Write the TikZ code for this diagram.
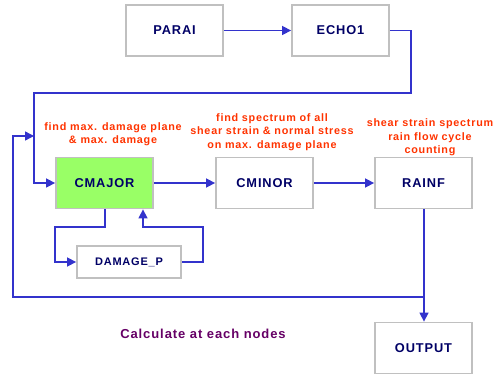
\documentclass[tikz,border=0pt]{standalone}
\usepackage{fontspec}
\setmainfont{Liberation Sans}
\newfontfamily\widesans[LetterSpace=7]{Liberation Sans}
\usetikzlibrary{arrows.meta}
\definecolor{boxline}{HTML}{C0C0C0}
\definecolor{boxtext}{HTML}{000066}
\definecolor{flow}{HTML}{3333CC}
\definecolor{note}{HTML}{FF3300}
\definecolor{caption}{HTML}{660066}
\definecolor{hot}{HTML}{99FF66}
\tikzset{
  x=1pt, y=-1pt,
  module/.style={draw=boxline, line width=1.8pt, fill=white, minimum width=97pt, minimum height=51pt,
    font=\widesans\fontsize{12.8}{15}\selectfont\bfseries, text=boxtext, inner sep=0pt},
  smallmodule/.style={module, minimum width=104pt, minimum height=32pt, font=\widesans\fontsize{11}{12}\selectfont\bfseries},
  link/.style={draw=flow, line width=1.5pt, -{Triangle[length=9pt,width=9pt]}},
  remark/.style={text=note, font=\widesans\fontsize{10.8}{13.5}\selectfont\bfseries, align=center, inner sep=0pt}
}
\begin{document}
\begin{tikzpicture}
\useasboundingbox (0,0) rectangle (501,374);
% modules
\node[module] (parai) at (174.5,30.5) {PARAI};
\node[module] (echo) at (340.5,30.5) {ECHO1};
\node[module, fill=hot] (cmajor) at (104.5,183) {CMAJOR};
\node[module] (cminor) at (264.5,183) {CMINOR};
\node[module] (rainf) at (423.5,183) {RAINF};
\node[smallmodule] (damage) at (129,262) {DAMAGE\_P};
\node[module] (output) at (423.5,348) {OUTPUT};
% remarks
\node[remark] (r1) at (113,134) {find max. damage plane\\\& max. damage};
\node[remark] (r2) at (272,132) {find spectrum of all\\shear strain \& normal stress\\on max. damage plane};
\node[remark] (r3) at (430,137.5) {shear strain spectrum\\rain flow cycle\\counting};
\node[text=caption, font=\widesans\fontsize{13}{14}\selectfont\bfseries] (cap) at (203,334) {Calculate at each nodes};
% junction points
\coordinate (j1) at (34,136);
\coordinate (j2) at (424,297);
% main flow
\draw[link] (parai) -- (echo);
\draw[link] (echo.east) -- (411,30.5) -- (411,93) -- (34,93) -- (34,183) -- (cmajor.west);
\draw[link] (cmajor) -- (cminor);
\draw[link] (cminor) -- (rainf);
\draw[link] (rainf.south -| j2) -- (output.north -| j2);
% damage sub-loop
\draw[link] (cmajor.south -| 105,0) -- (105,227) -- (55,227) -- (55,262) -- (damage.west);
\draw[link] (damage.east) -- (203,262) -- (203,227) -- (143,227) -- (cmajor.south -| 143,0);
% return loop
\draw[link] (j2) -- (13,297) -- (13,136) -- (j1);
\end{tikzpicture}
\end{document}
